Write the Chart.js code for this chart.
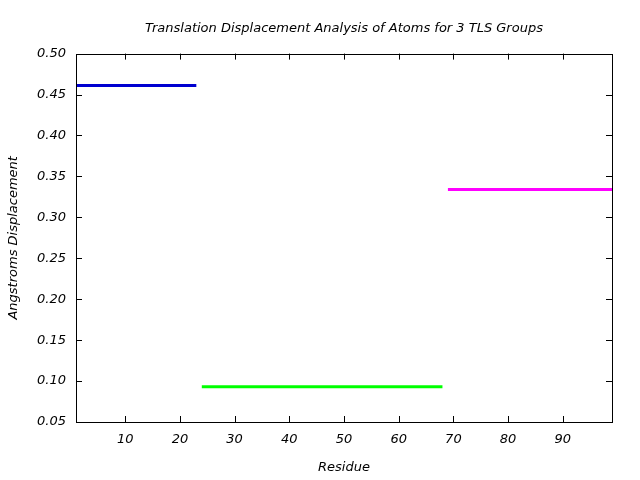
<!DOCTYPE html>
<html>
<head>
<meta charset="utf-8">
<script src="https://cdn.jsdelivr.net/npm/chart.js@4"></script>
<style>
    html, body { margin: 0; padding: 0; background: #fff; }
    #grafico { width: 640px; height: 480px; }
</style>
</head>
<body>
<div id="grafico"><canvas id="tlsChart"></canvas></div>
<script>
// dados
const grupos = ['TLS Group 1', 'TLS Group 2', 'TLS Group 3']
const residuoInicio = [1, 24, 69]
const residuoFim = [23, 68, 99]
const deslocamento = [0.461, 0.093, 0.334]
const cores = ['#0000d0', '#00ff00', '#ff00ff']

const fonte = { family: 'DejaVu Sans', size: 13, style: 'italic', weight: 'normal' }

// moldura e ticks para dentro, estilo gnuplot
const moldura = {
    id: 'moldura',
    afterDraw(chart) {
        const { ctx, chartArea: a, scales } = chart
        ctx.save()
        ctx.strokeStyle = '#000'
        ctx.lineWidth = 1
        ctx.beginPath()
        scales.x.ticks.forEach(t => {
            const px = Math.round(scales.x.getPixelForValue(t.value)) + 0.5
            ctx.moveTo(px, a.bottom); ctx.lineTo(px, a.bottom - 6)
            ctx.moveTo(px, a.top); ctx.lineTo(px, a.top + 6)
        })
        scales.y.ticks.forEach(t => {
            const py = Math.round(scales.y.getPixelForValue(t.value)) + 0.5
            ctx.moveTo(a.left, py); ctx.lineTo(a.left + 6, py)
            ctx.moveTo(a.right, py); ctx.lineTo(a.right - 6, py)
        })
        ctx.stroke()
        ctx.strokeRect(Math.round(a.left) + 0.5, Math.round(a.top) + 0.5,
            Math.round(a.right - a.left), Math.round(a.bottom - a.top))
        ctx.restore()
    }
}

const datasets = grupos.map((g, i) => ({
    label: g,
    data: [
        { x: residuoInicio[i], y: deslocamento[i] },
        { x: residuoFim[i], y: deslocamento[i] }
    ],
    borderColor: cores[i],
    backgroundColor: cores[i],
    borderWidth: 3,
    pointRadius: 0,
    fill: false
}))

const ctx = document.getElementById('tlsChart').getContext('2d')
new Chart(ctx, {
    type: 'line',
    data: { datasets },
    options: {
        responsive: true,
        maintainAspectRatio: false,
        animation: false,
        layout: { padding: { top: 0, right: 28, bottom: 0, left: 0 } },
        plugins: {
            legend: { display: false },
            tooltip: { enabled: false },
            title: {
                display: true,
                fullSize: false,
                text: 'Translation Displacement Analysis of Atoms for 3 TLS Groups',
                color: '#000',
                font: fonte,
                padding: { top: 21, bottom: 17 }
            }
        },
        scales: {
            x: {
                type: 'linear',
                min: 1,
                max: 99,
                border: { display: false },
                grid: { display: false, drawTicks: false },
                ticks: {
                    stepSize: 10,
                    includeBounds: false,
                    color: '#000',
                    font: fonte,
                    padding: 10
                },
                title: { display: true, text: 'Residue', color: '#000', font: fonte, padding: { top: 4, bottom: 5 } },
                afterFit(scale) { scale.height = 58 }
            },
            y: {
                min: 0.05,
                max: 0.5,
                border: { display: false },
                grid: { display: false, drawTicks: false },
                ticks: {
                    stepSize: 0.05,
                    color: '#000',
                    font: fonte,
                    padding: 10,
                    callback: v => v.toFixed(2)
                },
                title: { display: true, text: 'Angstroms Displacement', color: '#000', font: fonte, padding: { top: 6, bottom: 4 } },
                afterFit(scale) { scale.width = 76 }
            }
        }
    },
    plugins: [moldura]
})
</script>
</body>
</html>
